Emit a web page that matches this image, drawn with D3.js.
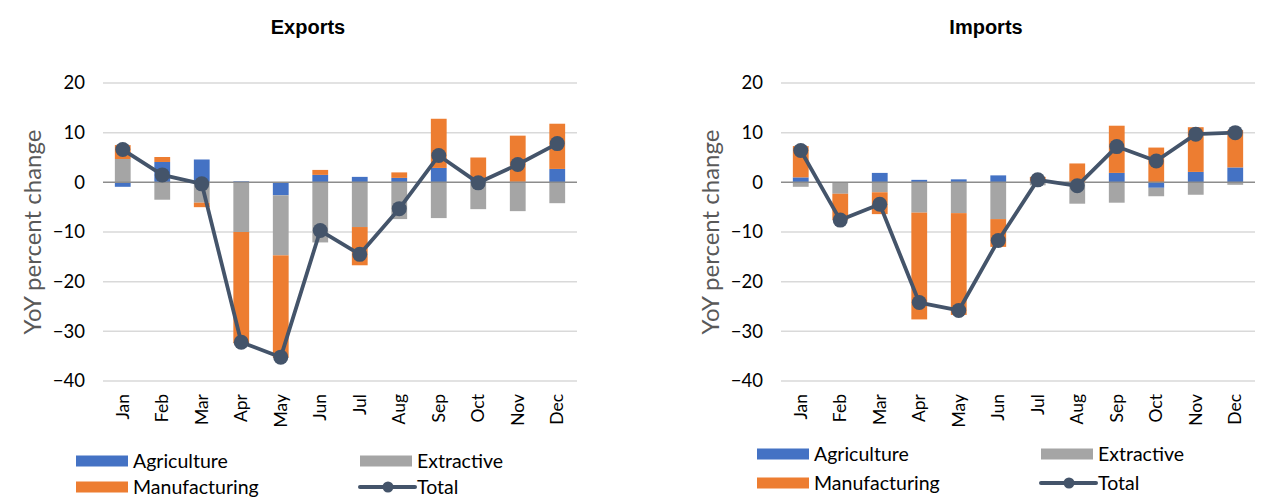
<!DOCTYPE html>
<html>
<head>
<meta charset="utf-8">
<script src="https://cdn.jsdelivr.net/npm/d3@7"></script>
<style>
  html, body { margin: 0; padding: 0; background: #ffffff; }
  svg { display: block; }
  text { font-family: Lato, "Open Sans", sans-serif; }
</style>
</head>
<body>
<svg id="chart" width="1265" height="501"></svg>
<script>
// Months on the category axis
const months = ["Jan", "Feb", "Mar", "Apr", "May", "Jun", "Jul", "Aug", "Sep", "Oct", "Nov", "Dec"];

// Exports: contributions to YoY change by sector, and the total
const exportsAgriculture   = [-0.9, 4.1, 4.6, 0.2, -2.6, 1.5, 1.1, 0.9, 2.9, 0.5, 0.1, 2.7];
const exportsExtractive    = [4.7, -3.5, -4.1, -10.0, -12.1, -12.1, -9.0, -7.4, -7.2, -5.4, -5.8, -4.2];
const exportsManufacturing = [2.8, 1.0, -0.9, -22.4, -20.6, 1.0, -7.7, 1.1, 9.9, 4.5, 9.3, 9.1];
const exportsTotal         = [6.6, 1.5, -0.3, -32.2, -35.2, -9.7, -14.5, -5.3, 5.4, -0.1, 3.6, 7.8];

// Imports: contributions to YoY change by sector, and the total
const importsAgriculture   = [1.0, 0.0, 1.9, 0.5, 0.6, 1.4, 0.1, 0.0, 1.9, -1.1, 2.1, 3.0];
const importsExtractive    = [-0.9, -2.3, -2.0, -6.1, -6.2, -7.4, -0.6, -4.3, -4.1, -1.7, -2.5, -0.5];
const importsManufacturing = [6.3, -5.3, -4.4, -21.5, -20.5, -5.6, 1.0, 3.8, 9.5, 7.0, 9.0, 7.5];
const importsTotal         = [6.4, -7.6, -4.4, -24.2, -25.8, -11.7, 0.5, -0.7, 7.2, 4.3, 9.7, 10.0];

// Axis ticks
const yTicks = [20, 10, 0, -10, -20, -30, -40];

const sectors = ["Agriculture", "Extractive", "Manufacturing"];
const colors = {
  Agriculture: "#4472C4",
  Extractive: "#A5A5A5",
  Manufacturing: "#ED7D31",
  Total: "#44546A"
};

const svg = d3.select("#chart");

function drawPanel(opts) {
  const { title, left, agri, extr, manu, total, legendY, rowGap, legendX0, legendX1 } = opts;
  const plotW = 474, top = 83, bottom = 381;

  const g = svg.append("g");

  const x = d3.scaleBand().domain(months).range([left, left + plotW]).padding(0);
  const y = d3.scaleLinear().domain([-40, 20]).range([bottom, top]);
  const barW = x.bandwidth() * 0.4;

  // Title
  g.append("text")
    .attr("x", left + plotW / 2 - 32)
    .attr("y", 34)
    .attr("text-anchor", "middle")
    .style("font-family", "'Liberation Sans', Arial, sans-serif")
    .style("font-weight", "bold")
    .style("font-size", "20px")
    .attr("fill", "#000")
    .text(title);

  // Horizontal gridlines
  g.append("g").selectAll("line")
    .data(yTicks.filter(t => t !== 0))
    .join("line")
    .attr("x1", left).attr("x2", left + plotW)
    .attr("y1", d => y(d)).attr("y2", d => y(d))
    .attr("stroke", "#d9d9d9")
    .attr("stroke-width", 1.5);

  // Y tick labels
  const yAxis = d3.axisLeft(y).tickValues(yTicks).tickSize(0).tickPadding(0);
  const ya = g.append("g")
    .attr("transform", `translate(${left - 18},0)`)
    .call(yAxis);
  ya.select(".domain").remove();
  ya.selectAll("text")
    .style("font-family", "Lato, sans-serif")
    .style("font-size", "18.5px")
    .attr("fill", "#000");

  // Y axis title
  g.append("text")
    .attr("transform", `translate(${left - 70},${(top + bottom) / 2}) rotate(-90)`)
    .attr("text-anchor", "middle")
    .attr("dy", "0.35em")
    .style("font-size", "24px")
    .attr("fill", "#595959")
    .text("YoY percent change");

  // Stacked bars (positives and negatives stacked separately)
  const rows = months.map((m, i) => ({
    month: m,
    Agriculture: agri[i],
    Extractive: extr[i],
    Manufacturing: manu[i]
  }));
  const stack = d3.stack().keys(sectors).offset(d3.stackOffsetDiverging);
  const layers = stack(rows);

  g.append("g").selectAll("g")
    .data(layers)
    .join("g")
    .attr("fill", d => colors[d.key])
    .selectAll("rect")
    .data(d => d)
    .join("rect")
    .attr("x", d => x(d.data.month) + (x.bandwidth() - barW) / 2)
    .attr("width", barW)
    .attr("y", d => y(Math.max(d[0], d[1])))
    .attr("height", d => Math.abs(y(d[0]) - y(d[1])));

  // Zero line
  g.append("line")
    .attr("x1", left).attr("x2", left + plotW)
    .attr("y1", y(0)).attr("y2", y(0))
    .attr("stroke", "#8c8c8c")
    .attr("stroke-width", 1.5);

  // Month labels
  g.append("g").selectAll("text")
    .data(months)
    .join("text")
    .attr("transform", d => `translate(${x(d) + x.bandwidth() / 2},${bottom + 13}) rotate(-90)`)
    .attr("text-anchor", "end")
    .attr("dy", "0.35em")
    .style("font-size", "17.5px")
    .attr("fill", "#000")
    .text(d => d);

  // Total line with markers
  const line = d3.line()
    .x((d, i) => x(months[i]) + x.bandwidth() / 2)
    .y(d => y(d));
  g.append("path")
    .datum(total)
    .attr("d", line)
    .attr("fill", "none")
    .attr("stroke", colors.Total)
    .attr("stroke-width", 3.8)
    .attr("stroke-linejoin", "round");
  g.append("g").selectAll("circle")
    .data(total)
    .join("circle")
    .attr("cx", (d, i) => x(months[i]) + x.bandwidth() / 2)
    .attr("cy", d => y(d))
    .attr("r", 7.5)
    .attr("fill", colors.Total);

  // Legend
  const legend = g.append("g");
  const legendItems = [
    { key: "Agriculture", col: 0, row: 0 },
    { key: "Extractive", col: 1, row: 0 },
    { key: "Manufacturing", col: 0, row: 1 },
    { key: "Total", col: 1, row: 1 }
  ];
  legendItems.forEach(item => {
    const lx = item.col === 0 ? legendX0 : legendX1;
    const ly = legendY + item.row * rowGap;
    if (item.key === "Total") {
      legend.append("line")
        .attr("x1", lx).attr("x2", lx + 55)
        .attr("y1", ly).attr("y2", ly)
        .attr("stroke", colors.Total)
        .attr("stroke-width", 4)
        .attr("stroke-linecap", "round");
      legend.append("circle")
        .attr("cx", lx + 28).attr("cy", ly).attr("r", 5.5)
        .attr("fill", colors.Total);
    } else {
      legend.append("rect")
        .attr("x", lx).attr("y", ly - 5.5)
        .attr("width", 52).attr("height", 11)
        .attr("fill", colors[item.key]);
    }
    legend.append("text")
      .attr("x", lx + 57)
      .attr("y", ly)
      .attr("dy", "0.35em")
      .style("font-size", "19.5px")
      .attr("fill", "#000")
      .text(item.key);
  });
}

drawPanel({
  title: "Exports", left: 103,
  agri: exportsAgriculture, extr: exportsExtractive,
  manu: exportsManufacturing, total: exportsTotal,
  legendY: 461, rowGap: 26, legendX0: 76, legendX1: 360
});

drawPanel({
  title: "Imports", left: 781,
  agri: importsAgriculture, extr: importsExtractive,
  manu: importsManufacturing, total: importsTotal,
  legendY: 454, rowGap: 29, legendX0: 757, legendX1: 1041
});
</script>
</body>
</html>
